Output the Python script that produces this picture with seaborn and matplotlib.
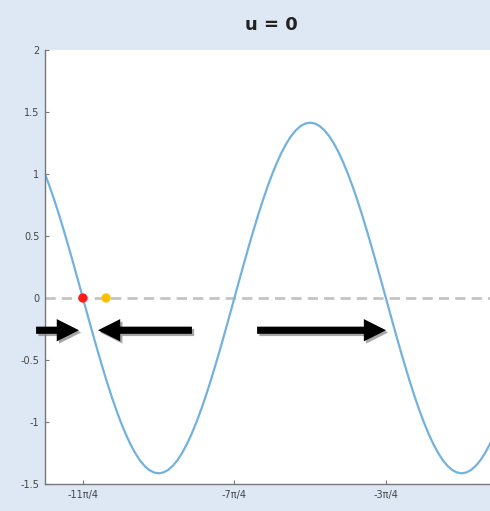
import numpy as np
import pandas as pd
import matplotlib
matplotlib.use("Agg")
import matplotlib.pyplot as plt
import seaborn as sns
from matplotlib import patheffects as pe
from matplotlib.patches import FancyArrow

TITLE = "u = 0"

# curve values read at steps of pi/32, from x = -3*pi to x = 0
curve_steps = list(range(-96, 1))  # multiples of pi/32
curve_y = [
    1.000, 0.897, 0.786, 0.667, 0.541, 0.411, 0.276, 0.139, 0.000,
    -0.139, -0.276, -0.411, -0.541, -0.667, -0.786, -0.897, -1.000,
    -1.093, -1.176, -1.247, -1.307, -1.353, -1.387, -1.407, -1.414,
    -1.407, -1.387, -1.353, -1.307, -1.247, -1.176, -1.093, -1.000,
    -0.897, -0.786, -0.667, -0.541, -0.411, -0.276, -0.139, 0.000,
    0.139, 0.276, 0.411, 0.541, 0.667, 0.786, 0.897, 1.000,
    1.093, 1.176, 1.247, 1.307, 1.353, 1.387, 1.407, 1.414,
    1.407, 1.387, 1.353, 1.307, 1.247, 1.176, 1.093, 1.000,
    0.897, 0.786, 0.667, 0.541, 0.411, 0.276, 0.139, 0.000,
    -0.139, -0.276, -0.411, -0.541, -0.667, -0.786, -0.897, -1.000,
    -1.093, -1.176, -1.247, -1.307, -1.353, -1.387, -1.407, -1.414,
    -1.407, -1.387, -1.353, -1.307, -1.247, -1.176, -1.093, -1.000,
]

# points on the zero line (x in units of pi)
dot_x = [-2.75, -2.597]
dot_y = [0.0, 0.0]
dot_colors = ["#ff1a1a", "#ffc000"]

# arrows: (tail x, tip x) in units of pi, at a common y
arrow_tail = [-3.059, -2.03, -1.60]
arrow_tip = [-2.776, -2.65, -0.749]
arrow_y = -0.26

xtick_vals = [-11 / 4, -7 / 4, -3 / 4]
xtick_labels = ["-11π/4", "-7π/4", "-3π/4"]
ytick_vals = [-1.5, -1, -0.5, 0, 0.5, 1, 1.5, 2]
ytick_labels = ["-1.5", "-1", "-0.5", "0", "0.5", "1", "1.5", "2"]

BG = "#dde8f4"
CURVE = "#72b2de"

sns.set_theme(style="white")
plt.rcParams["font.family"] = ["DejaVu Sans"]

fig = plt.figure(figsize=(4.9, 5.11), dpi=100, facecolor=BG)
ax = fig.add_axes([45 / 490, 1 - 484 / 511, 452 / 490, 434 / 511])
ax.set_facecolor("white")

df = pd.DataFrame({"x": np.array(curve_steps) * np.pi / 32, "y": curve_y})

ax.axhline(0, color="#c4c4c4", lw=2.0, dashes=(3.7, 2.2), zorder=1)
sns.lineplot(data=df, x="x", y="y", ax=ax, color=CURVE, lw=1.6, zorder=2,
             sort=False)

dots = pd.DataFrame({"x": np.array(dot_x) * np.pi, "y": dot_y, "c": dot_colors})
sns.scatterplot(data=dots, x="x", y="y", hue="c", palette={c: c for c in dot_colors},
                s=45, linewidth=0, ax=ax, legend=False, zorder=4)

shadow = [pe.SimplePatchShadow(offset=(1.6, -1.6), shadow_rgbFace="#808080", alpha=0.7),
          pe.Normal()]
for t, h in zip(arrow_tail, arrow_tip):
    x0 = t * np.pi
    dx = (h - t) * np.pi
    arr = FancyArrow(x0, arrow_y, dx, 0, width=0.058, head_width=0.18,
                     head_length=0.46, length_includes_head=True,
                     color="black", lw=0, clip_on=False, zorder=5)
    arr.set_path_effects(shadow)
    ax.add_patch(arr)

ax.set_xlim(-3 * np.pi, -3 * np.pi + 452 / 151.5 * np.pi)
ax.set_ylim(-1.5, 2)
ax.set_xticks(np.array(xtick_vals) * np.pi)
ax.set_xticklabels(xtick_labels)
ax.set_yticks(ytick_vals)
ax.set_yticklabels(ytick_labels)
ax.set_xlabel("")
ax.set_ylabel("")

for s in ["top", "right"]:
    ax.spines[s].set_visible(False)
for s in ["left", "bottom"]:
    ax.spines[s].set_color("#777777")
    ax.spines[s].set_linewidth(1.0)
ax.tick_params(direction="in", length=3, width=0.8, color="#777777",
               labelsize=7, labelcolor="#444444", pad=4,
               left=True, bottom=True)

fig.text(271 / 490, 1 - 25 / 511, TITLE, ha="center", va="center",
         fontsize=13, fontweight="bold", color="#222222")

fig.savefig("out.png", dpi=100, facecolor=BG)
